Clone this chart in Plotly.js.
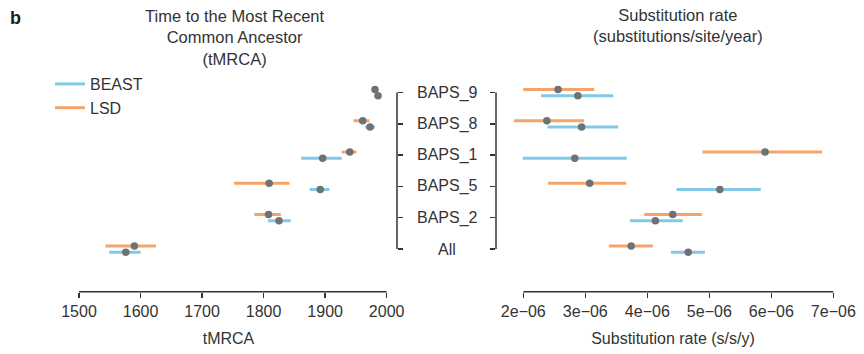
<!DOCTYPE html>
<html>
<head>
<meta charset="utf-8">
<script src="https://cdn.plot.ly/plotly-3.0.1.min.js"></script>
<style>html,body{margin:0;padding:0;background:#fff;}#chart{width:864px;height:354px;}</style>
</head>
<body>
<div id="chart"></div>
<script>
// Categories (bottom to top)
const categories = ["All", "BAPS_2", "BAPS_5", "BAPS_1", "BAPS_8", "BAPS_9"];

// tMRCA (years)
const tmrcaBeast    = [1576, 1825, 1892, 1896, 1973, 1986];
const tmrcaBeastLo  = [1549, 1807, 1875, 1861, 1965, 1984];
const tmrcaBeastHi  = [1600, 1844, 1907, 1927, 1981, 1988];
const tmrcaLsd      = [1590, 1808, 1809, 1940, 1961, 1981];
const tmrcaLsdLo    = [1543, 1785, 1752, 1927, 1946, 1978];
const tmrcaLsdHi    = [1625, 1828, 1842, 1951, 1972, 1984];

// Substitution rate (s/s/y)
const rateBeast   = [4.66e-6, 4.13e-6, 5.17e-6, 2.83e-6, 2.94e-6, 2.88e-6];
const rateBeastLo = [4.38e-6, 3.72e-6, 4.47e-6, 1.99e-6, 2.39e-6, 2.285e-6];
const rateBeastHi = [4.93e-6, 4.57e-6, 5.83e-6, 3.67e-6, 3.53e-6, 3.45e-6];
const rateLsd     = [3.74e-6, 4.41e-6, 3.07e-6, 5.90e-6, 2.38e-6, 2.56e-6];
const rateLsdLo   = [3.38e-6, 3.95e-6, 2.40e-6, 4.89e-6, 1.85e-6, 2.00e-6];
const rateLsdHi   = [4.09e-6, 4.88e-6, 3.66e-6, 6.82e-6, 2.98e-6, 3.145e-6];

// Tick labels
const tmrcaTicks = [1500, 1600, 1700, 1800, 1900, 2000];
const rateTickVals = [2e-6, 3e-6, 4e-6, 5e-6, 6e-6, 7e-6];
const rateTickText = ["2e\u221206", "3e\u221206", "4e\u221206", "5e\u221206", "6e\u221206", "7e\u221206"];

const BLUE = "#82c9e8", ORANGE = "#f5a469", DOT = "#6d7373", INK = "#333333";
const FONT = "Liberation Sans, Arial, sans-serif";
const OFF_LSD = 0.1, OFF_BEAST = -0.1;

function segs(lo, hi, off) {
  const x = [], y = [];
  categories.forEach((c, i) => { x.push(lo[i], hi[i], null); y.push(i + off, i + off, null); });
  return {x, y};
}
function pts(v, off) { return {x: v.slice(), y: categories.map((c, i) => i + off)}; }

const traces = [];
function panel(xa, ya, bLo, bHi, bMid, lLo, lHi, lMid, showLeg) {
  const sb = segs(bLo, bHi, OFF_BEAST), sl = segs(lLo, lHi, OFF_LSD);
  traces.push({type: "scatter", mode: "lines", name: "BEAST", legendgroup: "b", showlegend: showLeg,
    x: sb.x, y: sb.y, xaxis: xa, yaxis: ya, line: {color: BLUE, width: 3}, hoverinfo: "skip"});
  traces.push({type: "scatter", mode: "lines", name: "LSD", legendgroup: "l", showlegend: showLeg,
    x: sl.x, y: sl.y, xaxis: xa, yaxis: ya, line: {color: ORANGE, width: 3}, hoverinfo: "skip"});
  const pb = pts(bMid, OFF_BEAST), pl = pts(lMid, OFF_LSD);
  traces.push({type: "scatter", mode: "markers", showlegend: false, x: pb.x, y: pb.y, xaxis: xa, yaxis: ya,
    marker: {color: DOT, size: 7.5}});
  traces.push({type: "scatter", mode: "markers", showlegend: false, x: pl.x, y: pl.y, xaxis: xa, yaxis: ya,
    marker: {color: DOT, size: 7.5}});
}
panel("x", "y", tmrcaBeastLo, tmrcaBeastHi, tmrcaBeast, tmrcaLsdLo, tmrcaLsdHi, tmrcaLsd, true);
panel("x2", "y2", rateBeastLo, rateBeastHi, rateBeast, rateLsdLo, rateLsdHi, rateLsd, false);

const W = 864, H = 354;
const yDom = [1 - 291.7 / H, 1 - 75 / H];
const yRange = [-1.364, 5.56];
const catIdx = categories.map((c, i) => i);

const tickFont = {family: FONT, size: 16, color: INK};
const layout = {
  width: W, height: H,
  margin: {l: 0, r: 0, t: 0, b: 0},
  paper_bgcolor: "#fff", plot_bgcolor: "#fff",
  font: {family: FONT, color: INK, size: 16},
  showlegend: true,
  legend: {x: 50 / W, xanchor: "left", y: 1 - 67 / H, yanchor: "top", bgcolor: "rgba(0,0,0,0)",
    font: {family: FONT, size: 16, color: INK}, tracegroupgap: 0, traceorder: "normal"},
  xaxis: {domain: [60 / W, 397 / W], range: [1469.1, 2016.8], anchor: "y",
    tickvals: tmrcaTicks, ticktext: tmrcaTicks.map(String), ticks: "outside", ticklen: 5, tickwidth: 1.5,
    tickcolor: INK, showline: false, showgrid: false, zeroline: false, tickfont: tickFont,
    title: {text: "tMRCA", font: {family: FONT, size: 16, color: INK}, standoff: 13}},
  yaxis: {domain: yDom, range: yRange, anchor: "x", side: "right", tickvals: catIdx, ticks: "outside",
    ticklen: 5, tickwidth: 1.5, tickcolor: INK, showticklabels: false, showline: false, showgrid: false,
    zeroline: false},
  xaxis2: {domain: [496 / W, 850 / W], range: [1.5597e-6, 7.269e-6], anchor: "y2",
    tickvals: rateTickVals, ticktext: rateTickText, ticks: "outside", ticklen: 5, tickwidth: 1.5,
    tickcolor: INK, showline: false, showgrid: false, zeroline: false, tickfont: tickFont,
    title: {text: "Substitution rate (s/s/y)", font: {family: FONT, size: 16, color: INK}, standoff: 13}},
  yaxis2: {domain: yDom, range: yRange, anchor: "x2", side: "left", tickvals: catIdx, ticks: "outside",
    ticklen: 5, tickwidth: 1.5, tickcolor: INK, showticklabels: false, showline: false, showgrid: false,
    zeroline: false},
  shapes: [
    {type: "line", xref: "x", yref: "paper", x0: tmrcaTicks[0], x1: tmrcaTicks[tmrcaTicks.length - 1],
      y0: yDom[0], y1: yDom[0], line: {color: INK, width: 1.5}},
    {type: "line", xref: "x2", yref: "paper", x0: rateTickVals[0], x1: rateTickVals[rateTickVals.length - 1],
      y0: yDom[0], y1: yDom[0], line: {color: INK, width: 1.5}},
    {type: "line", xref: "paper", yref: "y", x0: 397 / W, x1: 397 / W, y0: 0, y1: categories.length - 1,
      line: {color: INK, width: 1.5}},
    {type: "line", xref: "paper", yref: "y2", x0: 496 / W, x1: 496 / W, y0: 0, y1: categories.length - 1,
      line: {color: INK, width: 1.5}}
  ],
  annotations: [
    {text: "<b>b</b>", xref: "paper", yref: "paper", x: 8 / W, y: 1 - 6 / H, xanchor: "left", yanchor: "top",
      showarrow: false, font: {family: FONT, size: 18, color: "#222"}},
    {text: "Time to the Most Recent<br>Common Ancestor<br>(tMRCA)", xref: "paper", yref: "paper",
      x: 235 / W, y: 1 - 5 / H, xanchor: "center", yanchor: "top", showarrow: false,
      font: {family: FONT, size: 16.5, color: INK}},
    {text: "Substitution rate<br>(substitutions/site/year)", xref: "paper", yref: "paper",
      x: 678 / W, y: 1 - 4 / H, xanchor: "center", yanchor: "top", showarrow: false,
      font: {family: FONT, size: 16.5, color: INK}}
  ].concat(categories.map((c, i) => ({
    text: c, xref: "paper", yref: "y", x: 447 / W, y: i, xanchor: "center", yanchor: "middle",
    showarrow: false, font: {family: FONT, size: 16, color: INK}
  })))
};

Plotly.newPlot("chart", traces, layout, {displayModeBar: false, staticPlot: true});
</script>
</body>
</html>
